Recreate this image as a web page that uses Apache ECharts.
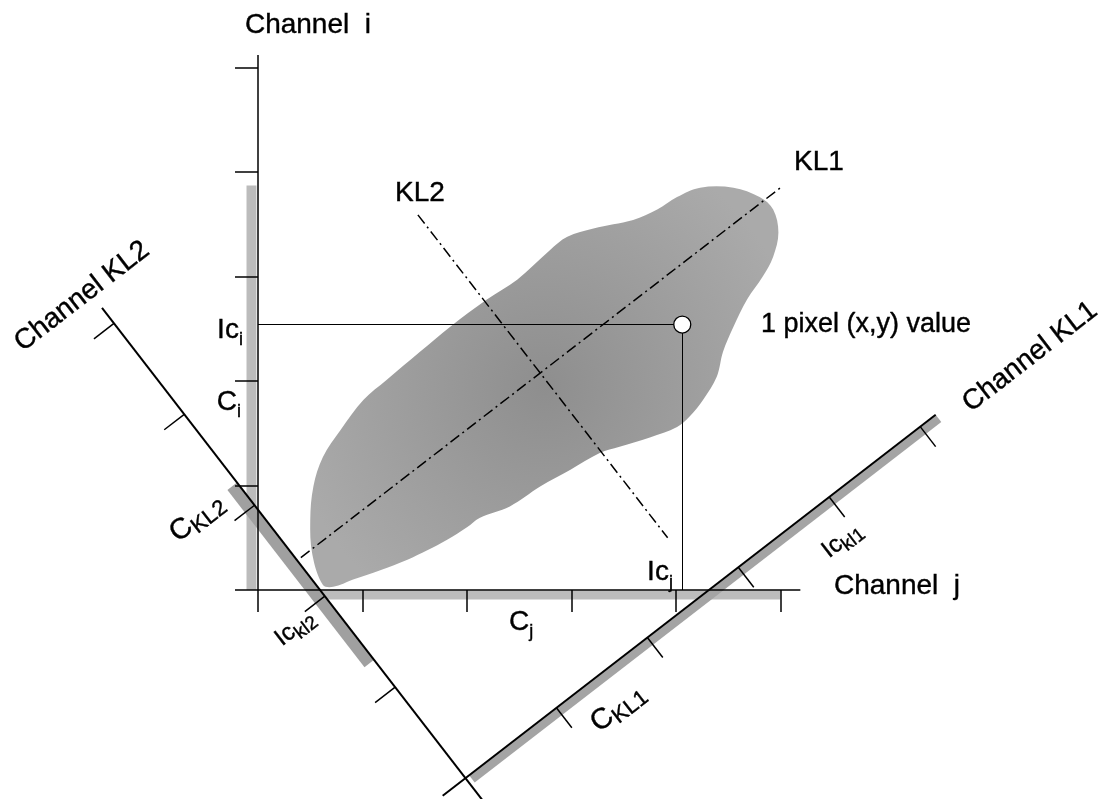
<!DOCTYPE html>
<html><head><meta charset="utf-8">
<script src="https://cdn.jsdelivr.net/npm/echarts@6/dist/echarts.min.js"></script>
<style>html,body{margin:0;padding:0;background:#fff}#c{width:1103px;height:799px}</style>
</head><body><div id="c"></div>
<script>
// ===== data (units: one tick of Channel j / Channel i) =====
const channelTicks = [0, 1, 2, 3, 4, 5];
const klTicks = [1, 2, 3, 4, 5];
const pixelValue = [4.06, 2.54];            // (Ic_j, Ic_i)
const ciRange = [0, 3.87];                  // projection of the cloud on Channel i
const cjRange = [0.60, 5.0];                // projection of the cloud on Channel j
const kl1Range = [0.04, 5.17];              // projection on Channel KL1 (KL units)
const kl2Range = [1.30, 3.25];              // projection on Channel KL2 (KL units)
const kl1Line = [[0.41, 0.31], [5.0, 3.85]];
const kl2Line = [[1.53, 3.59], [3.92, 0.50]];
const klOrigin = [1.985, -1.80];
const klAngle = 37.7;
const klUnit = 1.10;
const blobJ = [0.62,0.52,0.50,0.53,0.62,0.79,1.01,1.23,1.55,1.84,2.19,2.48,2.79,2.96,3.21,3.59,3.82,4.01,4.23,4.55,4.80,4.93,4.98,4.93,4.83,4.68,4.55,4.45,4.39,4.26,4.13,4.01,3.75,3.46,3.27,2.99,2.70,2.41,2.12,2.00,1.81,1.62,1.43,1.17,0.91,0.72];
const blobI = [0.05,0.34,0.67,0.99,1.27,1.53,1.82,2.01,2.28,2.52,2.78,2.97,3.25,3.38,3.46,3.54,3.64,3.76,3.85,3.85,3.76,3.64,3.42,3.19,3.00,2.78,2.52,2.28,2.04,1.82,1.66,1.56,1.46,1.37,1.31,1.15,0.99,0.80,0.69,0.60,0.48,0.38,0.29,0.19,0.10,0.03];

// ===== layout =====
const W = 1103, H = 799, ORIGIN_PX = [258, 590], PX = 104.5;
const font = "'Liberation Sans', Arial, Helvetica, sans-serif";
const rad = klAngle * Math.PI / 180;
const u1 = [Math.cos(rad), Math.sin(rad)], u2 = [-Math.sin(rad), Math.cos(rad)];
function kl(a, b) {
  return [klOrigin[0] + klUnit * (a * u1[0] + b * u2[0]), klOrigin[1] + klUnit * (a * u1[1] + b * u2[1])];
}
const blob = blobJ.map((x, i) => [x, blobI[i]]);

const axisSegs = [
  [[-0.22, 0], [5.19, 0]],
  [[0, 0], [0, 5.12]]
];
channelTicks.forEach(t => axisSegs.push([[t, 0], [t, -0.21]]));
channelTicks.filter(t => t > 0).forEach(t => axisSegs.push([[0, t], [-0.22, t]]));
klTicks.forEach(t => axisSegs.push([kl(t, 0), kl(t, -0.22)]));
klTicks.forEach(t => axisSegs.push([kl(0, t), kl(-0.22, t)]));
const klAxes = [[kl(-0.25, 0), kl(5.17, 0)], [kl(0, -0.4), kl(0, 5.17)]];
const guideSegs = [[[0, pixelValue[1]], pixelValue], [pixelValue, [pixelValue[0], 0]]];

const bars = [
  { pts: [[-0.11, ciRange[0]], [-0.015, ciRange[0]], [-0.015, ciRange[1]], [-0.11, ciRange[1]]], fill: '#bcbcbc' },
  { pts: [[cjRange[0], -0.005], [cjRange[1], -0.005], [cjRange[1], -0.09], [cjRange[0], -0.09]], fill: '#bcbcbc' },
  { pts: [kl(kl1Range[0], 0), kl(kl1Range[1], 0), kl(kl1Range[1], -0.08), kl(kl1Range[0], -0.08)], fill: '#a4a4a4' },
  { pts: [kl(0, kl2Range[0]), kl(0, kl2Range[1]), kl(-0.105, kl2Range[1]), kl(-0.105, kl2Range[0])], fill: '#a0a0a0' }
];

const txt = { fontFamily: font, color: '#000', textBorderColor: '#000', textBorderWidth: 0.4, opacity: 1 };
const rich = {
  a: Object.assign({ fontSize: 28, lineHeight: 30 }, txt),
  b: Object.assign({ fontSize: 18, lineHeight: 18, padding: [20, 0, 0, 0] }, txt),
  c: Object.assign({ fontSize: 29, lineHeight: 30 }, txt),
  d: Object.assign({ fontSize: 22, lineHeight: 22, padding: [14, 0, 0, 0] }, txt),
  e: Object.assign({ fontSize: 24, lineHeight: 26 }, txt),
  f: Object.assign({ fontSize: 19, lineHeight: 19, padding: [14, 0, 0, 0] }, txt)
};
const labels = [
  { p: [0.478, 5.40], t: 'Channel  i', s: 28 },
  { p: [6.115, 0.04], t: 'Channel  j', s: 28 },
  { p: [5.368, 4.09], t: 'KL1', s: 28 },
  { p: [1.550, 3.80], t: 'KL2', s: 28 },
  { p: [5.818, 2.545], t: '1 pixel (x,y) value', s: 27 },
  { p: [7.388, 2.23], t: 'Channel KL1', s: 28, r: klAngle },
  { p: [-1.684, 2.81], t: 'Channel KL2', s: 28, r: klAngle },
  { p: [-0.268, 2.49], t: '{a|Ic}{b|i}' },
  { p: [-0.278, 1.80], t: '{a|C}{b|i}' },
  { p: [3.847, 0.165], t: '{a|Ic}{b|j}' },
  { p: [2.517, -0.31], t: '{a|C}{b|j}' },
  { p: [-0.584, 0.689], t: '{c|C}{d|KL2}', r: klAngle },
  { p: [0.354, -0.364], t: '{e|Ic}{f|kl2}', r: klAngle },
  { p: [3.445, -1.129], t: '{c|C}{d|KL1}', r: klAngle },
  { p: [5.589, 0.478], t: '{e|Ic}{f|kl1}', r: klAngle }
];

function poly(pts, style, z, smooth) {
  return {
    type: 'custom', coordinateSystem: 'cartesian2d', silent: true, z: z, data: [[0, 0]],
    renderItem: (p, api) => ({ type: 'polygon', shape: { points: pts.map(q => api.coord(q)), smooth: smooth || 0 }, style: style })
  };
}
function segs(list, style, z) {
  return {
    type: 'lines', coordinateSystem: 'cartesian2d', polyline: false, silent: true, z: z,
    lineStyle: Object.assign({ color: '#000', opacity: 1, curveness: 0 }, style),
    data: list.map(c => ({ coords: c }))
  };
}

const series = [];
series.push(poly(blob, {
  fill: new echarts.graphic.RadialGradient(0.5, 0.5, 0.65, [
    { offset: 0, color: '#8e8e8e' }, { offset: 1, color: '#aaaaaa' }])
}, 1, 0.35));
bars.forEach(b => series.push(poly(b.pts, { fill: b.fill }, 2)));
series.push(segs([kl1Line, kl2Line], { width: 1.5, type: [11, 4, 2, 4] }, 3));
series.push(segs(guideSegs, { width: 1 }, 3));
series.push(segs(axisSegs, { width: 1.5 }, 4));
series.push(segs(klAxes, { width: 2 }, 4));
series.push({
  type: 'scatter', z: 6, silent: true, symbol: 'circle', symbolSize: 17,
  itemStyle: { color: '#fff', borderColor: '#000', borderWidth: 1.3, opacity: 1 },
  data: [pixelValue]
});
series.push({
  type: 'scatter', z: 7, silent: true, symbol: 'circle', symbolSize: 1,
  itemStyle: { color: 'rgba(0,0,0,0)', opacity: 1 },
  data: labels.map(l => ({
    value: l.p,
    label: Object.assign({
      show: true, position: 'inside', formatter: l.t, rotate: l.r || 0,
      align: 'center', verticalAlign: 'middle',
      fontSize: l.s || 28, rich: rich
    }, txt)
  }))
});

const chart = echarts.init(document.getElementById('c'), null, { renderer: 'canvas' });
chart.setOption({
  animation: false,
  backgroundColor: '#fff',
  grid: { left: 0, right: 0, top: 0, bottom: 0 },
  xAxis: { type: 'value', min: -ORIGIN_PX[0] / PX, max: (W - ORIGIN_PX[0]) / PX, show: false },
  yAxis: { type: 'value', min: -(H - ORIGIN_PX[1]) / PX, max: ORIGIN_PX[1] / PX, show: false },
  series: series
});
</script></body></html>
